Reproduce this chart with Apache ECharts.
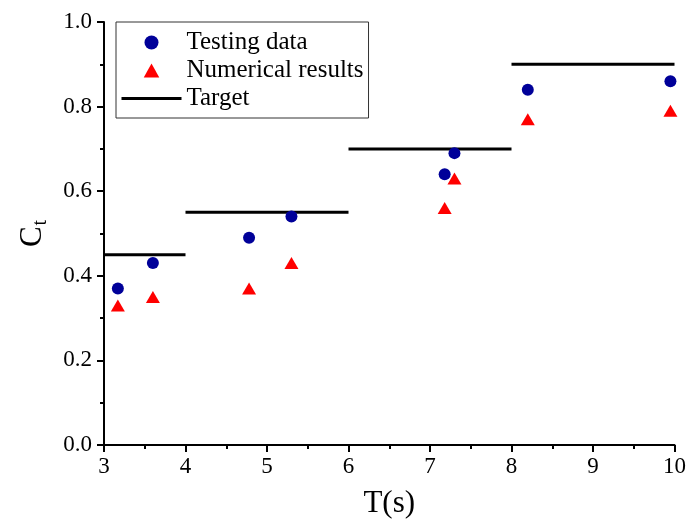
<!DOCTYPE html>
<html>
<head>
<meta charset="utf-8">
<script src="https://cdn.jsdelivr.net/npm/echarts@6/dist/echarts.min.js"></script>
<style>
  html, body { margin: 0; padding: 0; background: #fff; }
  #chart { width: 689px; height: 524px; }
</style>
</head>
<body>
<div id="chart"></div>
<script>
// periods T(s) where measurements were taken
const periods = [3.17, 3.6, 4.78, 5.3, 7.18, 7.3, 8.2, 9.95];
const testingData = [0.37, 0.43, 0.49, 0.54, 0.64, 0.69, 0.84, 0.86];
const numericalResults = [0.33, 0.35, 0.37, 0.43, 0.56, 0.63, 0.77, 0.79];
// target steps
const targetStarts = [3, 4, 6, 8];
const targetEnds = [4, 6, 8, 10];
const targetValues = [0.45, 0.55, 0.70, 0.90];

const font = "Liberation Serif";

const targetSeries = targetValues.map((v, i) => ({
  name: "Target",
  type: "line",
  symbol: "none",
  lineStyle: { color: "#000", width: 3 },
  itemStyle: { color: "#000" },
  data: [[targetStarts[i], v], [targetEnds[i], v]],
  z: 1
}));

const options = {
  animation: false,
  textStyle: { fontFamily: font },
  grid: { left: 104, right: 13, top: 22, bottom: 76 },
  legend: {
    orient: "vertical",
    left: 116,
    top: 22,
    padding: [8, 5, 7, 4],
    itemWidth: 60,
    itemHeight: 14,
    itemGap: 3,
    borderColor: "#333",
    borderWidth: 1,
    symbolKeepAspect: true,
    textStyle: { fontFamily: font, fontSize: 25, color: "#000" },
    data: [
      { name: "Testing data", icon: "circle" },
      { name: "Numerical results", icon: "path://M0,-1L1,0.8L-1,0.8Z" },
      { name: "Target", itemStyle: { opacity: 0 }, lineStyle: { width: 3, color: "#000" } }
    ]
  },
  xAxis: {
    type: "value",
    min: 3,
    max: 10,
    interval: 1,
    name: "T(s)",
    nameLocation: "middle",
    nameGap: 43,
    nameTextStyle: { fontFamily: font, fontSize: 31, color: "#000" },
    axisLine: { lineStyle: { color: "#000", width: 2 } },
    axisTick: { length: 7, lineStyle: { color: "#000", width: 2 } },
    minorTick: { show: true, splitNumber: 2, length: 4, lineStyle: { color: "#000", width: 2 } },
    axisLabel: { fontFamily: font, fontSize: 23, color: "#000", margin: 10 },
    splitLine: { show: false }
  },
  yAxis: {
    type: "value",
    min: 0,
    max: 1,
    interval: 0.2,
    name: "{a|C}{b|t}",
    nameLocation: "middle",
    nameRotate: 90,
    nameGap: 53,
    nameTextStyle: {
      rich: {
        a: { fontFamily: font, fontSize: 31, color: "#000" },
        b: { fontFamily: font, fontSize: 20, color: "#000", padding: [16, 0, 0, 1] }
      }
    },
    axisLine: { show: true, lineStyle: { color: "#000", width: 2 } },
    axisTick: { show: true, length: 7, lineStyle: { color: "#000", width: 2 } },
    minorTick: { show: true, splitNumber: 2, length: 4, lineStyle: { color: "#000", width: 2 } },
    axisLabel: {
      fontFamily: font, fontSize: 23, color: "#000", margin: 12,
      formatter: v => v.toFixed(1)
    },
    splitLine: { show: false }
  },
  series: [
    {
      name: "Testing data",
      type: "scatter",
      symbol: "circle",
      symbolSize: 12,
      itemStyle: { color: "#000099", opacity: 1 },
      data: periods.map((t, i) => [t, testingData[i]]),
      z: 3
    },
    {
      name: "Numerical results",
      type: "scatter",
      symbol: "triangle",
      symbolSize: [14, 12],
      itemStyle: { color: "#ff0000", opacity: 1 },
      data: periods.map((t, i) => [t, numericalResults[i]]),
      z: 2
    }
  ].concat(targetSeries)
};

const chart = echarts.init(document.getElementById("chart"));
chart.setOption(options);
</script>
</body>
</html>
